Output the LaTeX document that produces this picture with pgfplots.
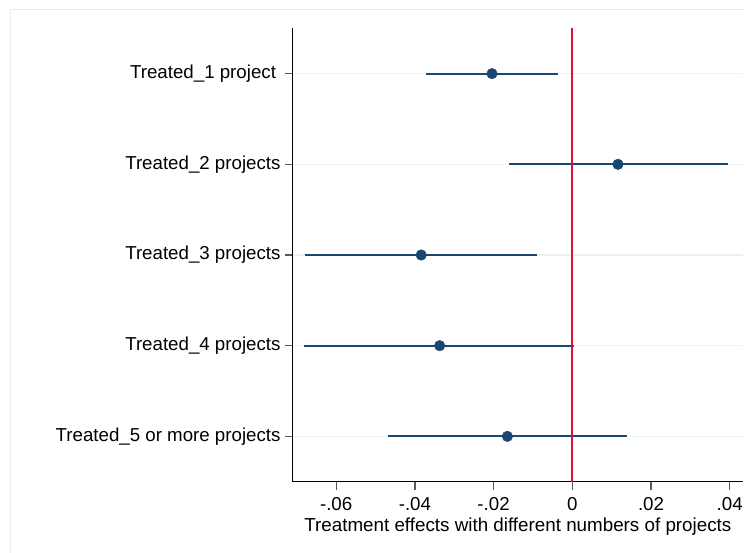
\documentclass[border=0pt]{standalone}
\usepackage{pgfplots}
\pgfplotsset{compat=1.18}
\usepackage{pgfplotstable}
\usepackage{fontspec}
\setmainfont{Liberation Sans}
\definecolor{navy}{RGB}{26,71,111}
\definecolor{gridc}{RGB}{234,242,243}
\definecolor{xred}{RGB}{222,16,58}
\definecolor{framec}{RGB}{228,236,238}
\definecolor{tickc}{RGB}{90,90,90}
\pgfplotstableread{
row est lo hi
1 -0.0204 -0.0372 -0.0037
2 0.0116 -0.0160 0.0395
3 -0.0384 -0.0679 -0.0090
4 -0.0337 -0.0681 0.0005
5 -0.0165 -0.0468 0.0140
}\coefs
\begin{document}
\fontsize{18.7}{22}\selectfont
\begin{tikzpicture}[x=1pt,y=1pt]
\useasboundingbox (0,0) rectangle (744,552);
\draw[framec, line width=1pt] (10.5,-10) -- (10.5,542.5) -- (760,542.5);
\begin{axis}[
  at={(292.7pt,70.3pt)}, anchor=south west,
  scale only axis, width=450.3pt, height=453.4pt,
  xmin=-0.07105, xmax=0.04338, ymin=0.5, ymax=5.5, y dir=reverse,
  axis x line*=bottom, axis y line*=left,
  x axis line style={-, line width=1.3pt, black},
  y axis line style={-, line width=1.3pt, black},
  tick align=outside, major tick length=8pt,
  tick style={line width=1.3pt, tickc},
  scaled x ticks=false,
  xtick={-0.06,-0.04,-0.02,0,0.02,0.04},
  xticklabels={-.06,-.04,-.02,0,.02,.04},
  ytick={1,2,3,4,5},
  yticklabels={Treated\_1 project\kern4.5pt,Treated\_2 projects,Treated\_3 projects,Treated\_4 projects,Treated\_5 or more projects},
  ymajorgrids, grid style={gridc, line width=1.5pt},
  every tick label/.append style={font=\fontsize{18.7}{22}\selectfont, inner sep=0pt},
  xticklabel style={anchor=base, yshift=-20.3pt},
  yticklabel style={anchor=east, xshift=-4pt},
  xlabel={Treatment effects with different numbers of projects},
  xlabel style={at={(axis description cs:0.5,0)}, anchor=base, yshift=-49.3pt, inner sep=0pt, font=\fontsize{18.8}{22}\selectfont},
  clip=false,
]
\addplot[draw=none, mark=none, error bars/.cd, x dir=both, x explicit, error mark=none,
  error bar style={line width=2pt, navy}]
  table[x=est, y=row, x error plus expr=\thisrow{hi}-\thisrow{est}, x error minus expr=\thisrow{est}-\thisrow{lo}] {\coefs};
\addplot[xred, line width=1.7pt, mark=none] coordinates {(0,0.5) (0,5.5)};
\addplot[only marks, mark=*, mark size=5.3pt, navy, mark options={draw=navy, fill=navy}] table[x=est, y=row] {\coefs};
\end{axis}
\end{tikzpicture}
\end{document}
